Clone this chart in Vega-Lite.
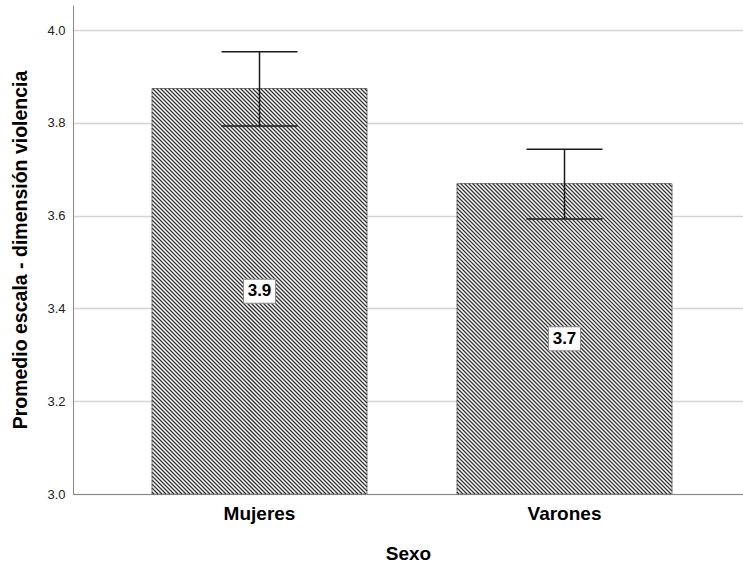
{
  "$schema": "https://vega.github.io/schema/vega-lite/v6.json",
  "width": 670,
  "height": 489,
  "autosize": "none",
  "padding": {"left": 73, "top": 5, "right": 0, "bottom": 74},
  "background": "white",
  "config": {"view": {"stroke": null}, "font": "Liberation Sans"},
  "data": {"values": [
    {"Sexo": "Mujeres", "mean": 3.874, "lo": 3.793, "hi": 3.953},
    {"Sexo": "Varones", "mean": 3.669, "lo": 3.593, "hi": 3.743}
  ]},
  "transform": [{"calculate": "(datum.mean + 3) / 2", "as": "mid"}],
  "encoding": {
    "x": {
      "field": "Sexo", "type": "nominal",
      "scale": {"type": "band", "domain": ["Mujeres", "Varones"], "paddingInner": 0.2951, "paddingOuter": 0.2459, "align": 0.5267},
      "axis": {"title": "Sexo", "labelAngle": 0, "ticks": false, "grid": false, "labelFontSize": 19, "labelFontWeight": "bold", "labelColor": "#000", "labelPadding": 10, "domainColor": "#888", "domainWidth": 1, "titleFontSize": 19, "titleFontWeight": "bold", "titleColor": "#000", "titleY": 59, "titleBaseline": "middle"}
    }
  },
  "layer": [
    {
      "mark": {"type": "bar", "fill": "white", "stroke": "#808080", "strokeWidth": 1},
      "encoding": {
        "y": {"field": "mean", "type": "quantitative", "title": "Promedio escala - dimensión violencia",
          "scale": {"domain": [3, 4.054], "nice": false, "zero": false},
          "axis": {"values": [3, 3.2, 3.4, 3.6, 3.8, 4], "format": ".1f", "grid": true, "gridColor": "#d4d4d4", "gridWidth": 1.5, "ticks": false, "labelPadding": 8, "labelFontSize": 13, "labelColor": "#222", "domainColor": "#888", "domainWidth": 1, "titleFontSize": 19.5, "titleFontWeight": "bold", "titleColor": "#000", "titleX": -53, "titleBaseline": "middle"}},
        "y2": {"datum": 3}
      }
    },
    {
      "mark": {"type": "point", "filled": false, "color": "#333", "strokeWidth": 1.3, "opacity": 1, "size": 4},
      "encoding": {
        "y": {"datum": 3, "type": "quantitative"},
        "shape": {"field": "Sexo", "type": "nominal", "legend": null, "scale": {"domain": ["Mujeres", "Varones"], "range": [
          "M-107.5,-2l2,2M-107.5,-6l6,6M-107.5,-10l10,10M-107.5,-14l14,14M-107.5,-18l18,18M-107.5,-22l22,22M-107.5,-26l26,26M-107.5,-30l30,30M-107.5,-34l34,34M-107.5,-38l38,38M-107.5,-42l42,42M-107.5,-46l46,46M-107.5,-50l50,50M-107.5,-54l54,54M-107.5,-58l58,58M-107.5,-62l62,62M-107.5,-66l66,66M-107.5,-70l70,70M-107.5,-74l74,74M-107.5,-78l78,78M-107.5,-82l82,82M-107.5,-86l86,86M-107.5,-90l90,90M-107.5,-94l94,94M-107.5,-98l98,98M-107.5,-102l102,102M-107.5,-106l106,106M-107.5,-110l110,110M-107.5,-114l114,114M-107.5,-118l118,118M-107.5,-122l122,122M-107.5,-126l126,126M-107.5,-130l130,130M-107.5,-134l134,134M-107.5,-138l138,138M-107.5,-142l142,142M-107.5,-146l146,146M-107.5,-150l150,150M-107.5,-154l154,154M-107.5,-158l158,158M-107.5,-162l162,162M-107.5,-166l166,166M-107.5,-170l170,170M-107.5,-174l174,174M-107.5,-178l178,178M-107.5,-182l182,182M-107.5,-186l186,186M-107.5,-190l190,190M-107.5,-194l194,194M-107.5,-198l198,198M-107.5,-202l202,202M-107.5,-206l206,206M-107.5,-210l210,210M-107.5,-214l214,214M-107.5,-218l215,215M-107.5,-222l215,215M-107.5,-226l215,215M-107.5,-230l215,215M-107.5,-234l215,215M-107.5,-238l215,215M-107.5,-242l215,215M-107.5,-246l215,215M-107.5,-250l215,215M-107.5,-254l215,215M-107.5,-258l215,215M-107.5,-262l215,215M-107.5,-266l215,215M-107.5,-270l215,215M-107.5,-274l215,215M-107.5,-278l215,215M-107.5,-282l215,215M-107.5,-286l215,215M-107.5,-290l215,215M-107.5,-294l215,215M-107.5,-298l215,215M-107.5,-302l215,215M-107.5,-306l215,215M-107.5,-310l215,215M-107.5,-314l215,215M-107.5,-318l215,215M-107.5,-322l215,215M-107.5,-326l215,215M-107.5,-330l215,215M-107.5,-334l215,215M-107.5,-338l215,215M-107.5,-342l215,215M-107.5,-346l215,215M-107.5,-350l215,215M-107.5,-354l215,215M-107.5,-358l215,215M-107.5,-362l215,215M-107.5,-366l215,215M-107.5,-370l215,215M-107.5,-374l215,215M-107.5,-378l215,215M-107.5,-382l215,215M-107.5,-386l215,215M-107.5,-390l215,215M-107.5,-394l215,215M-107.5,-398l215,215M-107.5,-402l215,215M-107,-405.5l214.5,214.5M-103,-405.5l210.5,210.5M-99,-405.5l206.5,206.5M-95,-405.5l202.5,202.5M-91,-405.5l198.5,198.5M-87,-405.5l194.5,194.5M-83,-405.5l190.5,190.5M-79,-405.5l186.5,186.5M-75,-405.5l182.5,182.5M-71,-405.5l178.5,178.5M-67,-405.5l174.5,174.5M-63,-405.5l170.5,170.5M-59,-405.5l166.5,166.5M-55,-405.5l162.5,162.5M-51,-405.5l158.5,158.5M-47,-405.5l154.5,154.5M-43,-405.5l150.5,150.5M-39,-405.5l146.5,146.5M-35,-405.5l142.5,142.5M-31,-405.5l138.5,138.5M-27,-405.5l134.5,134.5M-23,-405.5l130.5,130.5M-19,-405.5l126.5,126.5M-15,-405.5l122.5,122.5M-11,-405.5l118.5,118.5M-7,-405.5l114.5,114.5M-3,-405.5l110.5,110.5M1,-405.5l106.5,106.5M5,-405.5l102.5,102.5M9,-405.5l98.5,98.5M13,-405.5l94.5,94.5M17,-405.5l90.5,90.5M21,-405.5l86.5,86.5M25,-405.5l82.5,82.5M29,-405.5l78.5,78.5M33,-405.5l74.5,74.5M37,-405.5l70.5,70.5M41,-405.5l66.5,66.5M45,-405.5l62.5,62.5M49,-405.5l58.5,58.5M53,-405.5l54.5,54.5M57,-405.5l50.5,50.5M61,-405.5l46.5,46.5M65,-405.5l42.5,42.5M69,-405.5l38.5,38.5M73,-405.5l34.5,34.5M77,-405.5l30.5,30.5M81,-405.5l26.5,26.5M85,-405.5l22.5,22.5M89,-405.5l18.5,18.5M93,-405.5l14.5,14.5M97,-405.5l10.5,10.5M101,-405.5l6.5,6.5M105,-405.5l2.5,2.5",
          "M-107.5,-2l2,2M-107.5,-6l6,6M-107.5,-10l10,10M-107.5,-14l14,14M-107.5,-18l18,18M-107.5,-22l22,22M-107.5,-26l26,26M-107.5,-30l30,30M-107.5,-34l34,34M-107.5,-38l38,38M-107.5,-42l42,42M-107.5,-46l46,46M-107.5,-50l50,50M-107.5,-54l54,54M-107.5,-58l58,58M-107.5,-62l62,62M-107.5,-66l66,66M-107.5,-70l70,70M-107.5,-74l74,74M-107.5,-78l78,78M-107.5,-82l82,82M-107.5,-86l86,86M-107.5,-90l90,90M-107.5,-94l94,94M-107.5,-98l98,98M-107.5,-102l102,102M-107.5,-106l106,106M-107.5,-110l110,110M-107.5,-114l114,114M-107.5,-118l118,118M-107.5,-122l122,122M-107.5,-126l126,126M-107.5,-130l130,130M-107.5,-134l134,134M-107.5,-138l138,138M-107.5,-142l142,142M-107.5,-146l146,146M-107.5,-150l150,150M-107.5,-154l154,154M-107.5,-158l158,158M-107.5,-162l162,162M-107.5,-166l166,166M-107.5,-170l170,170M-107.5,-174l174,174M-107.5,-178l178,178M-107.5,-182l182,182M-107.5,-186l186,186M-107.5,-190l190,190M-107.5,-194l194,194M-107.5,-198l198,198M-107.5,-202l202,202M-107.5,-206l206,206M-107.5,-210l210,210M-107.5,-214l214,214M-107.5,-218l215,215M-107.5,-222l215,215M-107.5,-226l215,215M-107.5,-230l215,215M-107.5,-234l215,215M-107.5,-238l215,215M-107.5,-242l215,215M-107.5,-246l215,215M-107.5,-250l215,215M-107.5,-254l215,215M-107.5,-258l215,215M-107.5,-262l215,215M-107.5,-266l215,215M-107.5,-270l215,215M-107.5,-274l215,215M-107.5,-278l215,215M-107.5,-282l215,215M-107.5,-286l215,215M-107.5,-290l215,215M-107.5,-294l215,215M-107.5,-298l215,215M-107.5,-302l215,215M-107.5,-306l215,215M-107.5,-310l215,215M-104,-310.5l211.5,211.5M-100,-310.5l207.5,207.5M-96,-310.5l203.5,203.5M-92,-310.5l199.5,199.5M-88,-310.5l195.5,195.5M-84,-310.5l191.5,191.5M-80,-310.5l187.5,187.5M-76,-310.5l183.5,183.5M-72,-310.5l179.5,179.5M-68,-310.5l175.5,175.5M-64,-310.5l171.5,171.5M-60,-310.5l167.5,167.5M-56,-310.5l163.5,163.5M-52,-310.5l159.5,159.5M-48,-310.5l155.5,155.5M-44,-310.5l151.5,151.5M-40,-310.5l147.5,147.5M-36,-310.5l143.5,143.5M-32,-310.5l139.5,139.5M-28,-310.5l135.5,135.5M-24,-310.5l131.5,131.5M-20,-310.5l127.5,127.5M-16,-310.5l123.5,123.5M-12,-310.5l119.5,119.5M-8,-310.5l115.5,115.5M-4,-310.5l111.5,111.5M0,-310.5l107.5,107.5M4,-310.5l103.5,103.5M8,-310.5l99.5,99.5M12,-310.5l95.5,95.5M16,-310.5l91.5,91.5M20,-310.5l87.5,87.5M24,-310.5l83.5,83.5M28,-310.5l79.5,79.5M32,-310.5l75.5,75.5M36,-310.5l71.5,71.5M40,-310.5l67.5,67.5M44,-310.5l63.5,63.5M48,-310.5l59.5,59.5M52,-310.5l55.5,55.5M56,-310.5l51.5,51.5M60,-310.5l47.5,47.5M64,-310.5l43.5,43.5M68,-310.5l39.5,39.5M72,-310.5l35.5,35.5M76,-310.5l31.5,31.5M80,-310.5l27.5,27.5M84,-310.5l23.5,23.5M88,-310.5l19.5,19.5M92,-310.5l15.5,15.5M96,-310.5l11.5,11.5M100,-310.5l7.5,7.5M104,-310.5l3.5,3.5"
        ]}}
      }
    },
    {
      "mark": {"type": "rule", "color": "#1a1a1a", "strokeWidth": 1.5},
      "encoding": {
        "y": {"field": "lo", "type": "quantitative"},
        "y2": {"field": "hi"}
      }
    },
    {
      "mark": {"type": "tick", "orient": "horizontal", "size": 76, "thickness": 1.5, "color": "#1a1a1a", "opacity": 1},
      "encoding": {"y": {"field": "lo", "type": "quantitative"}}
    },
    {
      "mark": {"type": "tick", "orient": "horizontal", "size": 76, "thickness": 1.5, "color": "#1a1a1a", "opacity": 1},
      "encoding": {"y": {"field": "hi", "type": "quantitative"}}
    },
    {
      "mark": {"type": "point", "shape": "M-16,-12L16,-12L16,12L-16,12Z", "size": 4, "filled": true, "fill": "white", "stroke": "#8c8c8c", "strokeWidth": 1, "opacity": 1},
      "encoding": {"y": {"field": "mid", "type": "quantitative"}}
    },
    {
      "mark": {"type": "text", "fontSize": 17, "fontWeight": "bold", "color": "#000", "baseline": "middle", "align": "center"},
      "encoding": {
        "y": {"field": "mid", "type": "quantitative"},
        "text": {"field": "mean", "type": "quantitative", "format": ".1f"}
      }
    }
  ]
}
